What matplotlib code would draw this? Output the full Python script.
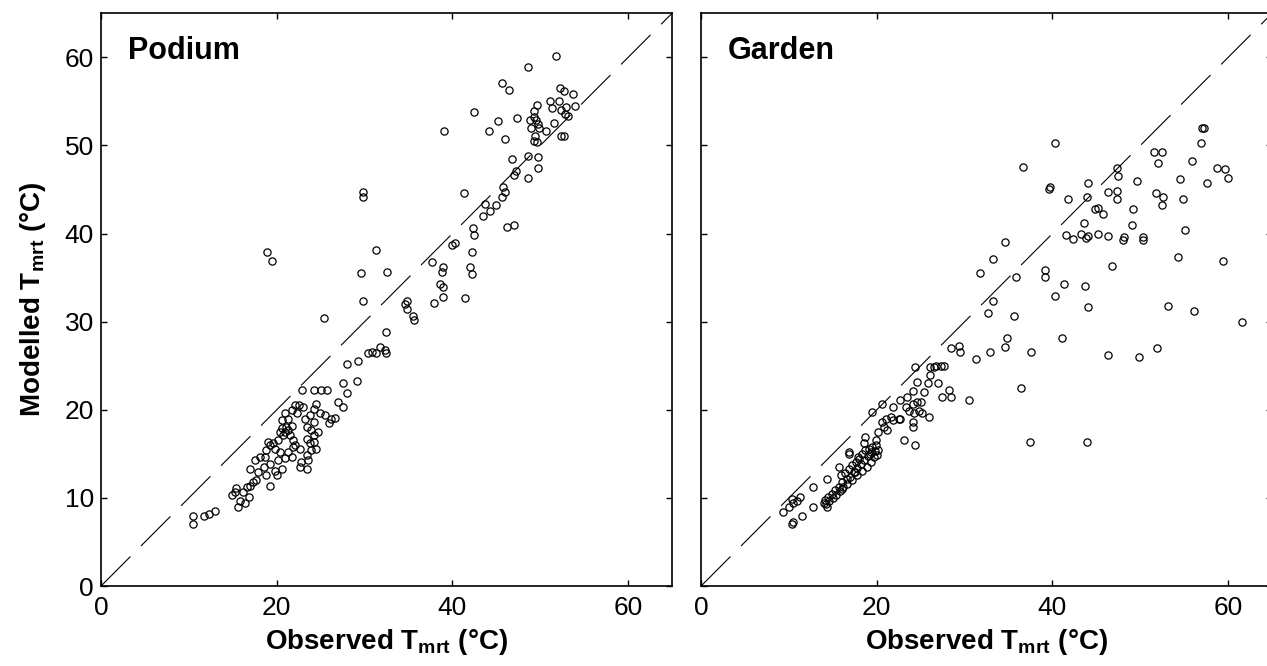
import numpy as np
import matplotlib
matplotlib.use("Agg")
import matplotlib.pyplot as plt

plt.rcParams["font.family"] = ["Liberation Sans", "DejaVu Sans"]
plt.rcParams["mathtext.fontset"] = "custom"
plt.rcParams["mathtext.rm"] = "Liberation Sans"
plt.rcParams["mathtext.bf"] = "Liberation Sans:bold"

# observed vs modelled Tmrt (degC)
podium_points = np.array([
    (10.5, 7.9), (10.5, 7.1), (11.7, 8.0), (12.3, 8.2), (13.0, 8.5),
    (14.9, 10.3), (15.4, 11.1), (15.6, 9.0), (15.8, 9.7), (16.2, 10.7), (16.6, 11.3),
    (16.8, 10.1), (16.4, 9.4), (15.2, 10.7), (17.0, 11.4), (17.3, 11.8), (17.7, 12.0),
    (17.0, 13.3), (17.5, 14.3), (17.9, 12.9), (18.5, 13.5), (18.8, 12.6), (19.2, 11.4),
    (19.2, 13.9), (19.8, 13.1), (20.2, 14.3), (20.6, 13.3), (20.0, 12.6), (18.7, 14.7),
    (18.1, 14.7), (20.9, 14.5), (21.3, 15.2), (21.7, 14.7), (18.8, 15.4), (19.2, 16.0),
    (19.0, 16.4), (19.6, 16.2), (19.8, 15.6), (20.4, 15.2), (20.2, 16.6),
    (20.6, 17.9), (21.0, 17.5), (21.1, 18.1), (20.7, 17.1), (21.5, 17.1), (21.3, 17.7),
    (20.4, 17.5), (21.7, 18.2), (21.9, 16.6), (20.6, 18.8), (21.0, 19.6), (21.3, 19.0),
    (21.7, 20.0), (22.1, 20.5), (22.5, 20.5), (22.3, 19.6), (22.1, 16.0), (22.6, 15.6),
    (21.9, 15.8),
    (23.2, 19.0), (23.8, 19.4), (24.2, 18.6), (23.4, 18.1), (23.9, 17.7), (24.3, 17.1),
    (23.4, 16.7), (23.8, 16.2), (24.3, 16.4), (23.9, 15.4), (23.4, 14.9), (23.6, 14.3),
    (22.8, 14.1), (22.6, 13.5), (23.4, 13.3), (24.5, 15.6), (24.7, 17.5), (24.2, 20.1),
    (24.9, 19.6), (25.5, 19.4), (24.5, 20.7), (23.0, 20.3), (22.9, 22.3), (24.3, 22.3),
    (25.1, 22.3), (25.7, 22.3), (26.2, 19.0), (26.6, 19.1), (26.0, 18.5), (27.0, 20.9),
    (27.5, 20.3), (27.6, 23.0), (28.0, 21.9), (29.1, 23.3), (28.0, 25.2), (29.3, 25.5),
    (30.4, 26.4), (30.9, 26.6), (31.3, 26.5), (31.8, 27.1), (32.3, 26.8), (32.4, 26.5),
    (32.5, 28.8), (25.4, 30.4), (29.8, 32.4), (29.6, 35.5), (32.6, 35.7), (31.3, 38.1),
    (29.8, 44.7), (29.8, 44.2), (18.9, 37.9), (19.5, 36.9),
    (34.8, 32.4), (34.6, 32.0), (34.8, 31.5), (35.5, 30.7), (35.6, 30.2), (37.7, 36.8),
    (37.9, 32.1), (38.9, 36.2), (38.8, 35.6), (38.6, 34.3), (38.9, 33.9), (38.9, 32.8),
    (41.4, 32.7), (42.2, 37.9), (42.0, 36.2), (42.2, 35.4), (40.0, 38.7), (40.3, 38.9),
    (42.4, 40.6), (42.5, 39.8), (46.2, 40.7), (47.0, 41.0), (41.3, 44.6), (43.7, 43.4),
    (45.0, 43.2), (44.3, 42.6), (43.5, 42.0), (45.8, 45.3), (46.0, 44.7), (45.6, 44.2),
    (46.8, 48.5), (48.6, 48.8), (49.8, 47.5), (48.6, 46.3), (47.2, 47.1), (47.0, 46.7),
    (39.0, 51.7), (42.5, 53.8), (45.2, 52.8), (44.2, 51.6), (46.0, 50.7), (47.4, 53.1),
    (45.6, 57.1), (46.4, 56.3), (48.6, 58.9), (51.8, 60.1), (52.3, 56.5), (52.7, 56.2),
    (53.7, 55.9), (49.6, 54.6), (51.1, 55.0), (52.1, 55.0), (49.3, 53.9), (49.3, 53.2),
    (49.5, 52.9), (48.8, 52.9), (49.7, 52.4), (49.0, 52.0), (49.9, 52.0), (49.4, 51.1),
    (49.3, 50.5), (49.6, 50.4), (50.7, 51.6), (51.3, 54.2), (51.6, 52.5), (52.4, 54.0),
    (52.9, 54.4), (52.8, 53.6), (53.2, 53.4), (54.0, 54.5), (52.4, 51.1), (49.7, 48.7),
    (52.7, 51.1),
])

garden_points = np.array([
    (10.4, 7.1), (10.5, 7.3), (11.5, 8.0), (12.8, 9.0), (9.3, 8.4), (10.0, 9.0),
    (10.5, 9.4), (10.9, 9.7), (11.3, 10.1), (10.4, 9.9), (12.8, 11.2), (14.3, 12.1),
    (14.0, 9.4), (14.3, 9.0),
    (14.1, 9.8), (14.5, 10.1), (14.9, 10.5), (15.3, 10.9), (15.7, 11.3), (16.1, 11.8),
    (15.9, 12.6), (16.4, 12.8), (16.6, 12.2), (16.8, 13.3), (17.2, 13.7), (17.6, 14.1),
    (17.9, 14.7), (18.3, 15.0), (18.7, 15.4), (19.1, 15.6), (19.5, 15.8), (19.9, 16.0),
    (20.1, 15.4), (19.7, 14.7), (19.3, 14.1), (18.9, 13.5), (18.3, 13.1), (17.8, 12.6),
    (17.2, 12.0), (16.8, 15.0), (16.8, 15.2), (15.7, 13.5), (18.5, 16.2), (18.7, 16.9),
    (19.9, 16.6), (14.2, 9.3), (14.6, 9.6), (15.0, 10.0), (15.4, 10.3), (15.8, 10.8),
    (16.2, 11.2), (16.6, 11.6), (17.0, 12.4), (17.4, 12.9), (17.8, 13.4), (18.2, 13.9),
    (18.6, 14.3), (19.0, 14.8), (19.4, 15.2), (19.8, 15.3), (20.0, 14.9), (16.0, 11.0),
    (17.5, 13.0), (18.0, 14.4), (19.2, 15.0),
    (20.2, 17.5), (20.8, 18.1), (21.2, 17.7), (20.6, 18.6), (21.0, 19.0), (21.6, 19.2),
    (21.9, 18.8), (22.5, 19.0), (22.7, 19.0), (23.1, 16.6), (24.4, 16.0), (19.5, 19.7),
    (20.6, 20.7), (21.8, 20.3), (22.7, 21.1), (23.5, 21.5), (24.1, 22.1), (23.3, 20.3),
    (23.7, 19.9), (24.1, 20.7), (24.6, 20.9), (24.8, 19.9), (24.2, 19.6), (24.1, 18.6),
    (24.1, 18.1), (25.2, 19.6), (25.0, 20.9), (25.4, 22.0), (26.0, 19.2), (26.1, 23.9),
    (26.5, 24.9), (24.4, 24.9), (24.6, 23.2), (25.8, 23.0),
    (26.1, 24.9), (26.7, 25.0), (27.3, 25.0), (27.7, 25.0), (27.0, 23.1), (28.2, 22.2),
    (28.4, 21.5), (27.4, 21.5), (28.5, 27.0), (29.4, 27.3), (29.5, 26.6), (30.5, 21.1),
    (31.3, 25.8),
    (36.6, 47.6), (34.6, 39.1), (33.2, 37.1), (31.7, 35.5), (35.8, 35.1), (33.2, 32.4),
    (32.7, 31.0), (35.6, 30.6), (34.8, 28.1), (34.6, 27.1), (32.9, 26.6), (37.6, 26.6),
    (36.4, 22.5), (37.5, 16.3),
    (57.0, 52.0), (57.3, 52.0), (56.9, 50.3), (51.6, 49.3), (52.5, 49.3), (52.0, 48.0),
    (55.9, 48.2), (47.3, 47.5), (47.5, 46.5), (58.7, 47.5), (59.6, 47.3), (60.0, 46.3),
    (54.5, 46.2), (57.6, 45.7), (49.6, 46.0), (44.1, 45.8), (51.8, 44.6), (52.6, 44.1),
    (52.5, 43.3), (54.9, 43.9), (46.3, 44.7), (47.3, 44.8), (47.3, 43.9), (49.2, 42.8),
    (41.8, 43.9), (39.6, 45.1), (39.7, 45.3), (43.9, 44.2), (44.8, 42.8), (45.2, 42.9),
    (45.7, 42.2), (43.6, 41.2), (49.0, 41.0), (55.1, 40.4), (41.6, 39.8), (42.3, 39.4),
    (43.3, 39.9), (43.8, 39.5), (44.0, 39.7), (45.2, 39.9), (46.3, 39.7), (48.0, 39.3),
    (48.2, 39.6), (50.3, 39.6), (50.3, 39.3), (54.3, 37.3), (59.4, 36.9), (40.3, 50.3),
    (39.2, 35.9), (39.2, 35.1), (41.3, 34.3), (43.7, 34.0), (46.8, 36.3), (40.3, 32.9),
    (44.1, 31.7), (53.2, 31.8), (56.1, 31.2), (61.6, 30.0), (41.1, 28.2), (46.3, 26.2),
    (49.9, 26.0), (51.9, 27.0), (43.9, 16.4),
])

panels = [("Podium", podium_points), ("Garden", garden_points)]
x_ticks = [0, 20, 40, 60]
y_ticks = [0, 10, 20, 30, 40, 50, 60]
lim = 65

fig = plt.figure(figsize=(12.67, 6.66), dpi=100)
axes = [fig.add_axes([0.0797, 0.120, 0.4507, 0.860]),
        fig.add_axes([0.5533, 0.120, 0.4507, 0.860])]

for i, (ax, (name, pts)) in enumerate(zip(axes, panels)):
    ax.plot([0, lim], [0, lim], color="black", lw=0.8,
            linestyle=(0, (37.5, 13.5)), zorder=1)
    ax.plot(pts[:, 0], pts[:, 1], "o", ms=5.2, mfc="none", mec="black",
            mew=0.9, zorder=2)
    ax.set_xlim(0, lim)
    ax.set_ylim(0, lim)
    ax.set_xticks(x_ticks)
    ax.set_yticks(y_ticks)
    ax.tick_params(direction="in", length=4, width=1, top=True, right=True,
                   labelsize=19, colors="black")
    ax.tick_params(axis="x", pad=7)
    ax.tick_params(axis="y", pad=5)
    for s in ax.spines.values():
        s.set_linewidth(1.2)
    ax.text(0.047, 0.935, name, transform=ax.transAxes, fontsize=22,
            fontweight="bold", va="center", ha="left")
    ax.set_xlabel(r"Observed T$_{\mathbf{mrt}}$ (°C)", fontsize=20,
                  fontweight="bold", labelpad=5)
    if i == 0:
        ax.set_ylabel(r"Modelled T$_{\mathbf{mrt}}$ (°C)", fontsize=20,
                      fontweight="bold", labelpad=12)
    else:
        ax.tick_params(labelleft=False)

fig.savefig("out.png", dpi=100)
